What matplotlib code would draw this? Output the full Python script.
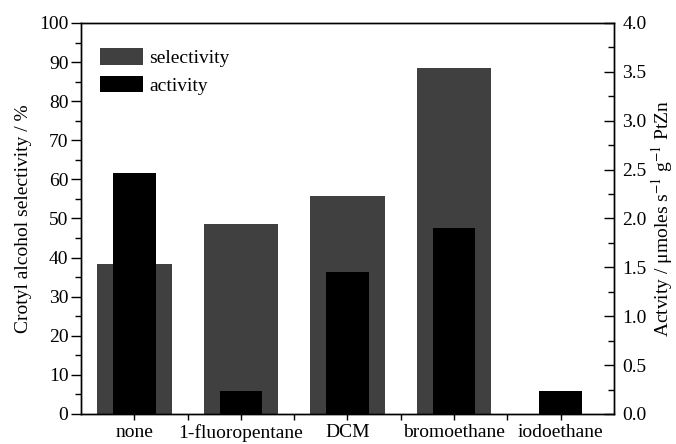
import numpy as np
import matplotlib.pyplot as plt
from matplotlib.ticker import MultipleLocator, FixedLocator

plt.rcParams['font.family'] = ['Liberation Serif', 'DejaVu Serif']
plt.rcParams['mathtext.fontset'] = 'stix'

# halide additive vs. crotyl alcohol selectivity and activity
additives = ['none', '1-fluoropentane', 'DCM', 'bromoethane', 'iodoethane']
selectivity = [38.3, 48.5, 55.8, 88.4, 0.0]
activity = [2.47, 0.24, 1.45, 1.90, 0.24]

x = np.arange(1, len(additives) + 1)

fig = plt.figure(figsize=(6.76, 4.44), dpi=100)
ax1 = fig.add_axes([0.1198, 0.0676, 0.7885, 0.8806])
ax2 = ax1.twinx()

b1 = ax1.bar(x, selectivity, width=0.7, color='#404040', label='selectivity')
b2 = ax2.bar(x, activity, width=0.4, color='black', label='activity')

ax1.set_xlim(0.5, 5.5)
ax1.set_ylim(0, 100)
ax2.set_ylim(0, 4.0)

ax1.set_xticks(x)
ax1.set_xticklabels(additives, fontsize=14)
ax1.xaxis.set_minor_locator(FixedLocator(x[:-1] + 0.5))
ax1.yaxis.set_major_locator(MultipleLocator(10))
ax1.yaxis.set_minor_locator(MultipleLocator(5))
ax2.yaxis.set_major_locator(MultipleLocator(0.5))
ax2.yaxis.set_minor_locator(MultipleLocator(0.25))
ax2.yaxis.set_major_formatter(plt.FormatStrFormatter('%.1f'))

ax1.tick_params(axis='y', which='major', direction='out', length=7, width=1, labelsize=14, pad=2)
ax1.tick_params(axis='y', which='minor', direction='out', length=4, width=1)
ax1.tick_params(axis='x', which='both', direction='out', length=4, width=1, pad=3.5)
ax2.tick_params(axis='y', which='major', direction='in', length=7, width=1, labelsize=14, pad=6)
ax2.tick_params(axis='y', which='minor', direction='in', length=4, width=1)

for ax in (ax1, ax2):
    for s in ax.spines.values():
        s.set_linewidth(1.0)

ax1.set_ylabel('Crotyl alcohol selectivity / %', fontsize=14, labelpad=5)
ax2.set_ylabel('Actvity / μmoles s$^{-1}$ g$^{-1}$ PtZn', fontsize=14, labelpad=2)

ax2.legend([b1, b2], ['selectivity', 'activity'], loc='upper left',
           bbox_to_anchor=(0.022, 0.955), frameon=False, fontsize=14,
           handlelength=2.2, handleheight=0.9, handletextpad=0.3,
           labelspacing=0.45, borderaxespad=0)

fig.savefig('out.png', dpi=100)
